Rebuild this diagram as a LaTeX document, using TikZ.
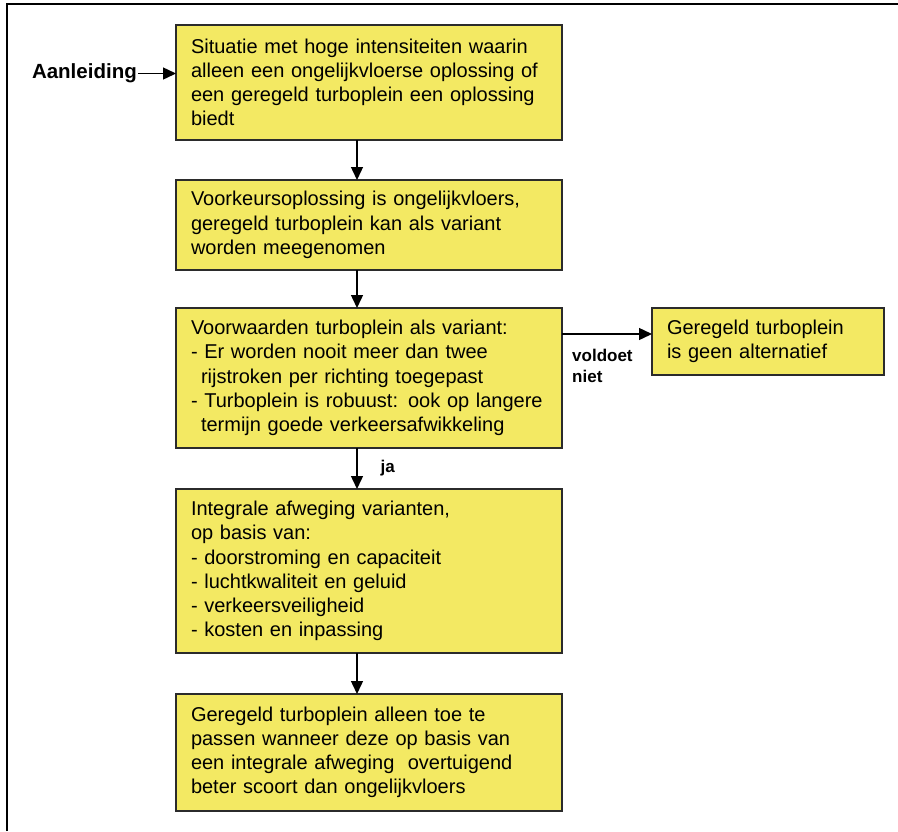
\documentclass[tikz,border=0pt]{standalone}
\usepackage{fontspec}
\setmainfont{Liberation Sans}
\usepackage{xcolor}
\usepackage{tikz}
\usetikzlibrary{
  arrows.meta,
  positioning,
  calc
}
\definecolor{FlowYellow}{HTML}{F3E963}
\definecolor{FlowEdge}{HTML}{2B2B2B}
\tikzset{
  flowbox/.style={draw=FlowEdge,line width=1.6pt,fill=FlowYellow,outer sep=0pt,
    inner xsep=15pt,inner ysep=8pt,align=left,
    font=\fontsize{20}{24.2}\selectfont},
  mainbox/.style={flowbox,text width=356pt},
  sidebox/.style={flowbox,text width=202pt},
  flowarrow/.style={-{Triangle[length=13pt,width=12pt]},line width=1.4pt,black},
  lead/.style={font=\bfseries\fontsize{20.5}{24}\selectfont,inner sep=1pt},
  tag/.style={font=\bfseries\fontsize{17}{21}\selectfont,align=left,inner sep=1pt}
}

\begin{document}
\begin{tikzpicture}[x=1pt,y=1pt,node distance=40pt]
  \useasboundingbox (0,0) rectangle (898,-831);
  % frame of the figure, cut off at right and bottom
  \draw[line width=2.6pt] (7,-831) -- (7,-4) -- (898,-4);

  \node[mainbox,anchor=north west,minimum height=115pt] (situatie) at (176,-25) {%
    Situatie met hoge intensiteiten waarin\\
    alleen een ongelijkvloerse oplossing of\\
    een geregeld turboplein een oplossing\\
    biedt};
  \node[mainbox,below=of situatie,minimum height=90pt] (voorkeur) {%
    Voorkeursoplossing is ongelijkvloers,\\
    geregeld turboplein kan als variant\\
    worden meegenomen};
  \node[mainbox,below=38pt of voorkeur,minimum height=140pt] (voorwaarden) {%
    Voorwaarden turboplein als variant:\\
    - Er worden nooit meer dan twee\\
    \hspace*{10pt}rijstroken per richting toegepast\\
    - Turboplein is robuust: ook op langere\\
    \hspace*{10pt}termijn goede verkeersafwikkeling};
  \node[mainbox,below=41pt of voorwaarden,minimum height=164pt] (afweging) {%
    Integrale afweging varianten,\\
    op basis van:\\
    - doorstroming en capaciteit\\
    - luchtkwaliteit en geluid\\
    - verkeersveiligheid\\
    - kosten en inpassing};
  \node[mainbox,below=41pt of afweging,minimum height=117pt] (besluit) {%
    Geregeld turboplein alleen toe te\\
    passen wanneer deze op basis van\\
    een integrale afweging~ overtuigend\\
    beter scoort dan ongelijkvloers};
  \node[sidebox,right=90pt of voorwaarden.north east,anchor=north west,
        minimum height=67pt] (geenalt) {%
    Geregeld turboplein\\
    is geen alternatief};
  \node[lead,left=38pt of situatie.west,yshift=9pt] (aanleiding) {Aanleiding};
  \node[tag,anchor=north west] (voldoet) at ([xshift=9pt,yshift=-40pt]voorwaarden.north east)
    {voldoet\\niet};

  % connectors
  \draw[flowarrow] (aanleiding.east) -- (aanleiding.east -| situatie.west);
  \draw[flowarrow] ([xshift=-12pt]situatie.south) -- ([xshift=-12pt]voorkeur.north);
  \draw[flowarrow] ([xshift=-12pt]voorkeur.south) -- ([xshift=-12pt]voorwaarden.north);
  \draw[flowarrow] ([yshift=-26pt]voorwaarden.north east) -- ([yshift=-26pt]geenalt.north west);
  \draw[flowarrow] ([xshift=-12pt]voorwaarden.south) -- ([xshift=-12pt]afweging.north)
    node[tag,midway,right=22pt] {ja};
  \draw[flowarrow] ([xshift=-12pt]afweging.south) -- ([xshift=-12pt]besluit.north);
\end{tikzpicture}
\end{document}
